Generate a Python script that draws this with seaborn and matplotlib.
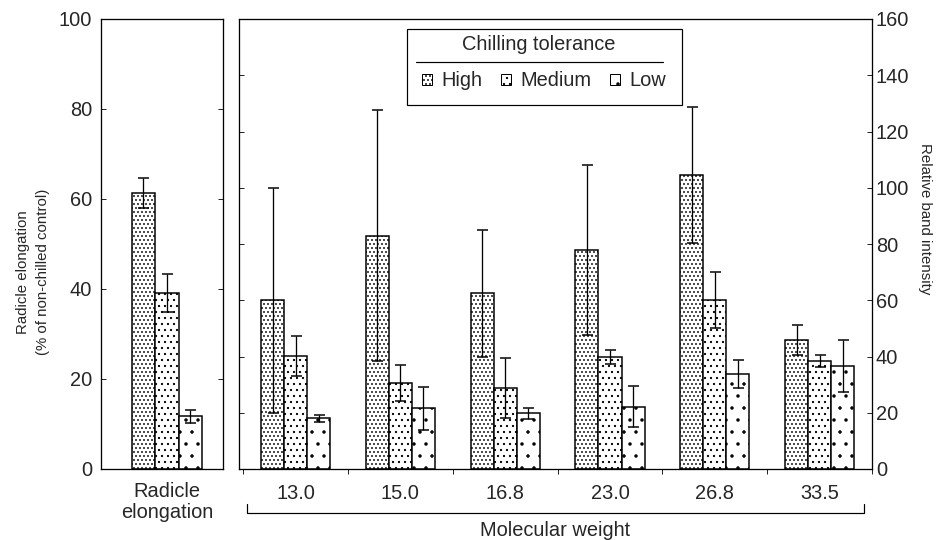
"""chilling tolerance: radicle elongation and relative band intensity"""

import numpy as np
import pandas as pd
import matplotlib
matplotlib.use("Agg")
import matplotlib.pyplot as plt
import matplotlib.patches as mpatches
import seaborn as sns

# --- data ---
tolerance = ["High", "Medium", "Low"]

radicle = [61.3, 39.1, 11.7]
radicle_err = [3.3, 4.2, 1.4]

mol_weight = ["13.0", "15.0", "16.8", "23.0", "26.8", "33.5"]
high = [60.0, 83.0, 62.5, 77.8, 104.6, 45.9]
high_err = [40.0, 44.7, 22.5, 30.2, 24.1, 5.2]
medium = [40.1, 30.5, 28.7, 39.9, 60.1, 38.4]
medium_err = [7.1, 6.4, 10.6, 2.5, 10.0, 2.1]
low = [18.0, 21.6, 19.8, 22.2, 33.8, 36.6]
low_err = [1.3, 7.7, 1.9, 7.2, 4.9, 9.3]

hatches = ["...", "..", "."]

sns.set_theme(style="ticks")
plt.rcParams["font.family"] = ["Liberation Sans", "DejaVu Sans"]
plt.rcParams["hatch.linewidth"] = 1.0
plt.rcParams["hatch.color"] = "black"

FS = 20      # tick labels, legend
FS_LAB = 15  # y axis titles

df_left = pd.DataFrame({"group": ["Radicle\nelongation"] * 3, "tol": tolerance,
                        "value": radicle, "err": radicle_err})
df_right = pd.DataFrame({
    "mw": mol_weight * 3,
    "tol": [t for t in tolerance for _ in mol_weight],
    "value": high + medium + low,
    "err": high_err + medium_err + low_err,
})

fig = plt.figure(figsize=(937 / 72, 540 / 72), dpi=72)
ax1 = fig.add_axes([101 / 937, 71 / 540, 122 / 937, 450 / 540])
ax2 = fig.add_axes([239 / 937, 71 / 540, 633 / 937, 450 / 540])

white = {t: "white" for t in tolerance}


def draw_bars(ax, df, x, order, width):
    sns.barplot(data=df, x=x, y="value", hue="tol", hue_order=tolerance, order=order,
                palette=white, edgecolor="black", linewidth=1.5, width=width,
                errorbar=None, legend=False, ax=ax)
    for cont, hatch, tol in zip(ax.containers, hatches, tolerance):
        errs = df[df["tol"] == tol].set_index(x).loc[order, "err"].values
        xs = [b.get_x() + b.get_width() / 2 for b in cont]
        ys = [b.get_height() for b in cont]
        for b in cont:
            b.set_hatch(hatch)
        ax.errorbar(xs, ys, yerr=errs, fmt="none", ecolor="black",
                    elinewidth=1.3, capsize=5.5, capthick=1.5, zorder=5)


draw_bars(ax1, df_left, "group", ["Radicle\nelongation"], 0.58)
draw_bars(ax2, df_right, "mw", mol_weight, 0.66)

# left panel
ax1.set_xlim(-0.54, 0.46)
ax1.set_ylim(0, 100)
ax1.set_yticks(np.arange(0, 101, 20))
ax1.tick_params(axis="y", direction="in", left=True, right=True, length=5,
                labelsize=FS, pad=9, width=1)
ax1.tick_params(axis="x", length=0, labelsize=FS, pad=13)
for t in ax1.get_xticklabels():
    t.set_linespacing(1.15)
ax1.set_xlabel("")
ax1.set_ylabel("Radicle elongation\n(% of non-chilled control)", fontsize=FS_LAB,
               va="center", ha="center", multialignment="center", linespacing=1.6)
ax1.yaxis.set_label_coords((33 - 101) / 122, (469 - 272) / 450)

# right panel
ax2.set_xlim(-0.54, 5.5)
ax2.set_ylim(0, 160)
ax2.set_yticks(np.arange(0, 161, 20))
ax2.yaxis.set_label_position("right")
ax2.tick_params(axis="y", direction="in", left=True, right=True, labelleft=False,
                labelright=True, length=5, labelsize=FS, pad=4, width=1)
ax2.set_xticks(np.arange(-0.5, 5.6, 1.0), minor=True)
ax2.tick_params(axis="x", which="major", length=0, labelsize=FS, pad=15)
ax2.tick_params(axis="x", which="minor", direction="out", length=5, width=1)
ax2.set_xlabel("")
ax2.set_ylabel("Relative band intensity", fontsize=FS_LAB, rotation=270,
               va="center", ha="center", rotation_mode="anchor")
ax2.yaxis.set_label_coords((925 - 239) / 633, (469 - 219) / 450)

for ax in (ax1, ax2):
    for s in ax.spines.values():
        s.set_visible(True)
        s.set_linewidth(1.3)
        s.set_color("black")

# bracket under the molecular weight labels
y0, y1 = (469 - 504) / 450, (469 - 513) / 450
xa, xb = (247 - 239) / 633, (864 - 239) / 633
ax2.plot([xa, xa, xb, xb], [y0, y1, y1, y0], color="black", lw=1.2,
         transform=ax2.transAxes, clip_on=False)
ax2.text(0.5, (469 - 530) / 450, "Molecular weight", transform=ax2.transAxes,
         ha="center", va="center", fontsize=FS)

# legend: frame, title, rule and entries
fig.add_artist(mpatches.Rectangle((407 / 937, 1 - 105 / 540), 275 / 937, 76 / 540,
                                  transform=fig.transFigure, facecolor="white",
                                  edgecolor="black", lw=1.2, zorder=6))
fig.text(539 / 937, 1 - 45 / 540, "Chilling tolerance", ha="center", va="center",
         fontsize=FS, zorder=7)
fig.add_artist(plt.Line2D([416 / 937, 663 / 937], [1 - 62 / 540, 1 - 62 / 540],
                          color="black", lw=1.2, zorder=7))
handles = [mpatches.Patch(facecolor="white", edgecolor="black", hatch=h, lw=1.0)
           for h in hatches]
leg = fig.legend(handles, tolerance, ncol=3, loc="center",
                 bbox_to_anchor=(544 / 937, 1 - 81 / 540), frameon=False,
                 fontsize=FS, handlelength=0.5, handleheight=0.5,
                 handletextpad=0.5, columnspacing=0.9, borderpad=0, borderaxespad=0)
leg.set_zorder(8)

fig.savefig("out.png", dpi=72)
